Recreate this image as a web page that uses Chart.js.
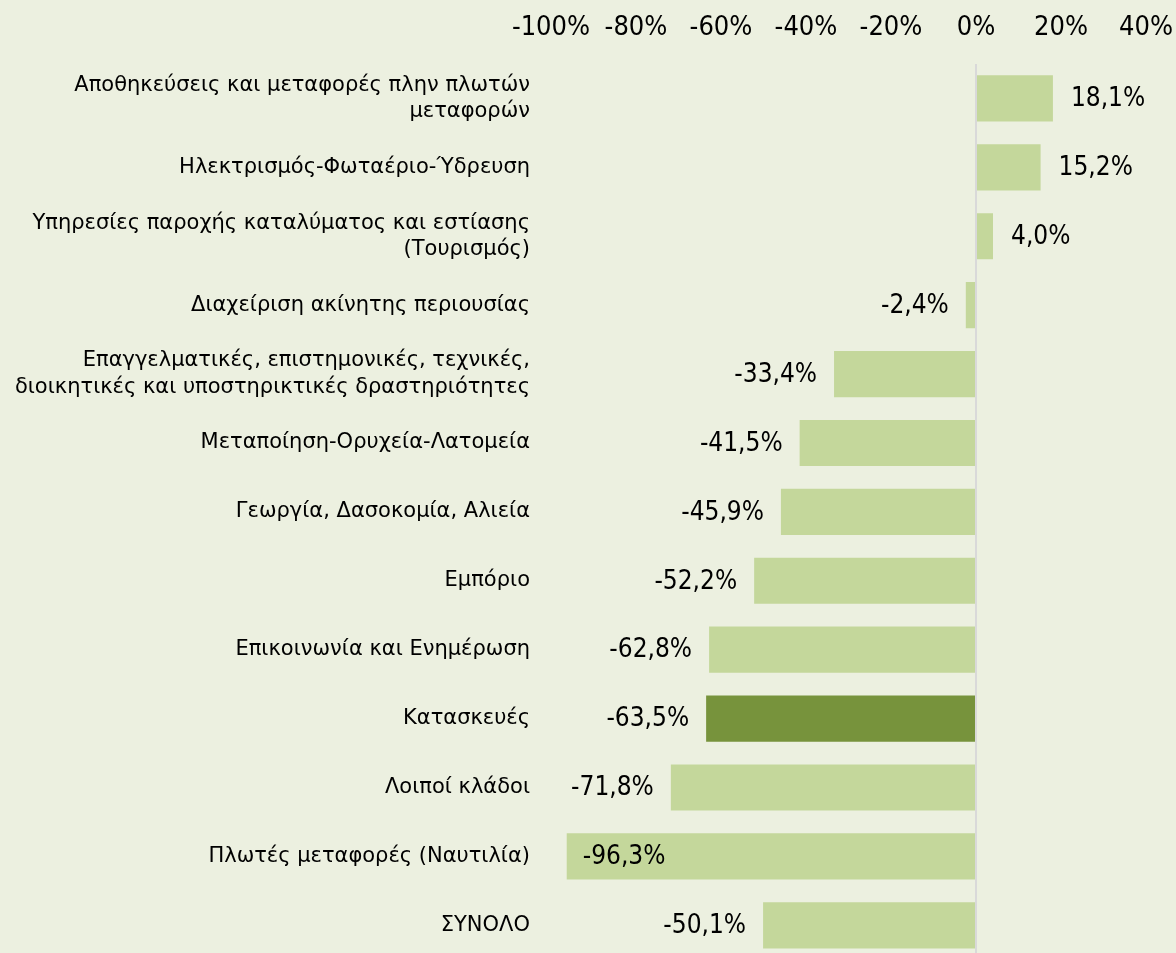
<!DOCTYPE html>
<html lang="el">
<head>
    <meta charset="UTF-8">
    <title>Μεταβολή ανά κλάδο</title>
    <script src="https://cdn.jsdelivr.net/npm/chart.js"></script>
    <style>
        html, body {
            margin: 0;
            padding: 0;
            overflow: hidden;
            background: #ECF0E0;
        }
        #wrap {
            width: 1176px;
            height: 1007px;
        }
    </style>
</head>
<body>
    <div id="wrap">
        <canvas id="sectorChart" width="1176" height="1007"></canvas>
    </div>
    <script>
        const categories = [
            ['Αποθηκεύσεις και μεταφορές πλην πλωτών', 'μεταφορών'],
            'Ηλεκτρισμός-Φωταέριο-Ύδρευση',
            ['Υπηρεσίες παροχής καταλύματος και εστίασης', '(Τουρισμός)'],
            'Διαχείριση ακίνητης περιουσίας',
            ['Επαγγελματικές, επιστημονικές, τεχνικές,', 'διοικητικές και υποστηρικτικές δραστηριότητες'],
            'Μεταποίηση-Ορυχεία-Λατομεία',
            'Γεωργία, Δασοκομία, Αλιεία',
            'Εμπόριο',
            'Επικοινωνία και Ενημέρωση',
            'Κατασκευές',
            'Λοιποί κλάδοι',
            'Πλωτές μεταφορές (Ναυτιλία)',
            'ΣΥΝΟΛΟ'
        ];
        const changes = [18.1, 15.2, 4.0, -2.4, -33.4, -41.5, -45.9, -52.2, -62.8, -63.5, -71.8, -96.3, -50.1];
        const highlighted = ['Κατασκευές'];
        const xTicks = [-100, -80, -60, -40, -20, 0, 20, 40];

        const lightGreen = '#C4D79B';
        const darkGreen = '#77933C';

        const barColors = categories.map(c => highlighted.includes(c) ? darkGreen : lightGreen);

        // value labels drawn next to each bar, like the spreadsheet did
        const valueLabels = {
            id: 'valueLabels',
            afterDatasetsDraw(chart) {
                const ctx = chart.ctx;
                const meta = chart.getDatasetMeta(0);
                const area = chart.chartArea;
                ctx.save();
                ctx.font = '26px "DejaVu Sans Condensed", "DejaVu Sans", sans-serif';
                ctx.fillStyle = '#000';
                ctx.textBaseline = 'middle';
                meta.data.forEach((bar, i) => {
                    const v = changes[i];
                    const txt = v.toFixed(1).replace('.', ',') + '%';
                    const w = ctx.measureText(txt).width;
                    if (v >= 0) {
                        ctx.textAlign = 'left';
                        ctx.fillText(txt, bar.x + 18, bar.y + 1);
                    } else if (bar.x - 16 - w < area.left) {
                        ctx.textAlign = 'left';
                        ctx.fillText(txt, bar.x + 16, bar.y + 1);
                    } else {
                        ctx.textAlign = 'right';
                        ctx.fillText(txt, bar.x - 17, bar.y + 1);
                    }
                });
                ctx.restore();
            }
        };

        new Chart(document.getElementById('sectorChart'), {
            type: 'bar',
            data: {
                labels: categories,
                datasets: [{
                    data: changes,
                    backgroundColor: barColors,
                    borderWidth: 0,
                    barPercentage: 0.67,
                    categoryPercentage: 1.0
                }]
            },
            options: {
                indexAxis: 'y',
                responsive: false,
                animation: false,
                layout: { padding: { right: 30 } },
                plugins: {
                    legend: { display: false },
                    tooltip: { enabled: false }
                },
                scales: {
                    x: {
                        position: 'top',
                        min: -100,
                        max: 40,
                        afterBuildTicks(scale) {
                            scale.ticks = xTicks.map(v => ({ value: v }));
                        },
                        afterFit(scale) {
                            scale.height = 64;
                            scale.paddingLeft = 0;
                            scale.paddingRight = 0;
                        },
                        border: { display: false },
                        grid: {
                            drawTicks: false,
                            lineWidth: 2,
                            color: c => c.tick && c.tick.value === 0 ? '#D9D9D9' : 'rgba(0,0,0,0)'
                        },
                        ticks: {
                            padding: 20,
                            color: '#000',
                            maxRotation: 0,
                            font: { family: '"DejaVu Sans Condensed", "DejaVu Sans", sans-serif', size: 27 },
                            callback: v => v + '%'
                        }
                    },
                    y: {
                        afterFit(scale) {
                            scale.width = 551;
                        },
                        border: { display: false },
                        grid: { display: false, drawTicks: false },
                        ticks: {
                            padding: 21,
                            color: '#000',
                            font: { family: '"DejaVu Sans", sans-serif', size: 21, lineHeight: 1.25 }
                        }
                    }
                }
            },
            plugins: [valueLabels]
        });
    </script>
</body>
</html>
